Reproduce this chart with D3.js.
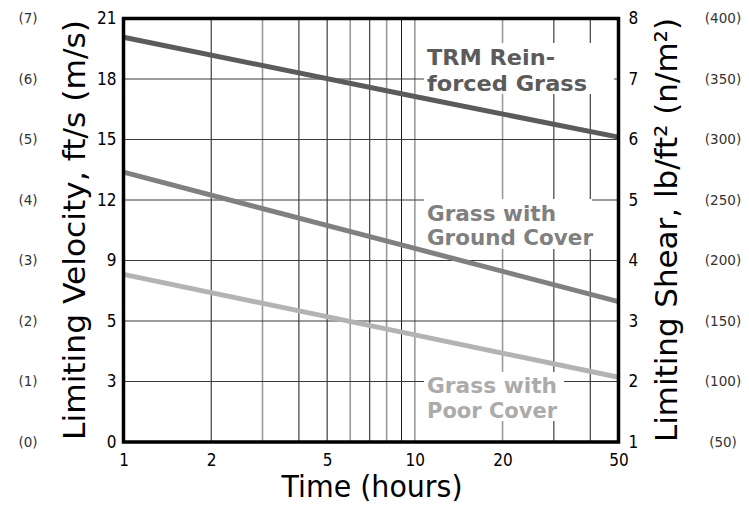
<!DOCTYPE html>
<html>
<head>
<meta charset="utf-8">
<script src="https://cdn.jsdelivr.net/npm/d3@7"></script>
<style>
  html, body { margin: 0; padding: 0; background: #fff; }
  svg { display: block; }
</style>
</head>
<body>
<svg id="chart" width="749" height="508"></svg>
<script>
// ---- data ----
const times = [1, 10, 50];
const trmShear = [7.69, 6.71, 6.04];      // lb/ft^2
const groundShear = [5.46, 4.20, 3.32];
const poorShear = [3.77, 2.77, 2.07];

const xTickValues = [1, 2, 5, 10, 20, 50];
const xGridValues = [2, 3, 4, 5, 6, 7, 8, 9, 10, 20, 30, 40];
const velocityTicks = [0, 3, 6, 9, 12, 15, 18, 21];
const velocityTickLabels = ["0", "3", "5", "9", "12", "15", "18", "21"];
const velocityMetricLabels = ["(0)", "(1)", "(2)", "(3)", "(4)", "(5)", "(6)", "(7)"];
const shearTicks = [1, 2, 3, 4, 5, 6, 7, 8];
const shearMetricLabels = ["(50)", "(100)", "(150)", "(200)", "(250)", "(300)", "(350)", "(400)"];

// ---- layout ----
const svg = d3.select("#chart");
const L = 123.5, R = 618.5, T = 18.5, B = 442;
const x = d3.scaleLog().domain([1, 50]).range([L, R]);
const yVel = d3.scaleLinear().domain([0, 21]).range([B, T]);
const yShear = d3.scaleLinear().domain([1, 8]).range([B, T]);
const grayGrid = new Set([3, 6, 8, 10, 20]);

// grid
svg.append("g").selectAll("line").data(xGridValues).join("line")
  .attr("x1", d => x(d)).attr("x2", d => x(d))
  .attr("y1", T).attr("y2", B)
  .attr("stroke", d => grayGrid.has(d) ? "#9a9a9a" : "#1a1a1a")
  .attr("stroke-width", d => grayGrid.has(d) ? 1.6 : 1);

svg.append("g").selectAll("line").data(velocityTicks.slice(1, -1)).join("line")
  .attr("x1", L).attr("x2", R)
  .attr("y1", d => yVel(d)).attr("y2", d => yVel(d))
  .attr("stroke", "#3a3a3a").attr("stroke-width", 1);

// label knock-out boxes
const boxes = [[424, 43, 190, 51], [424, 199, 168, 50], [424, 372, 140, 49]];
svg.append("g").selectAll("rect").data(boxes).join("rect")
  .attr("x", d => d[0]).attr("y", d => d[1]).attr("width", d => d[2]).attr("height", d => d[3])
  .attr("fill", "#fff");

// lines
const series = [
  { vals: trmShear, color: "#5b5b5b" },
  { vals: groundShear, color: "#808080" },
  { vals: poorShear, color: "#b3b3b3" }
];
const line = d3.line().x(d => x(d[0])).y(d => yShear(d[1]));
svg.append("g").selectAll("path").data(series).join("path")
  .attr("d", s => line(times.map((t, i) => [t, s.vals[i]])))
  .attr("fill", "none").attr("stroke", s => s.color).attr("stroke-width", 5);

// frame
svg.append("rect").attr("x", L).attr("y", T).attr("width", R - L).attr("height", B - T)
  .attr("fill", "none").attr("stroke", "#000").attr("stroke-width", 3.5);

// axes
const tickFont = "'DejaVu Sans Condensed', 'DejaVu Sans', sans-serif";
const metricFont = "'DejaVu Sans', sans-serif";
function styleAxis(g, size, color, anchor, family) {
  g.select(".domain").remove();
  g.selectAll("line").remove();
  g.selectAll("text").attr("font-family", family || tickFont).attr("font-size", size).attr("fill", color);
  if (anchor) g.selectAll("text").attr("text-anchor", anchor);
}
svg.append("g").attr("transform", `translate(${L},0)`)
  .call(d3.axisLeft(yVel).tickValues(velocityTicks).tickFormat((d, i) => velocityTickLabels[i]).tickSize(0).tickPadding(7))
  .call(g => styleAxis(g, 17, "#000"));
svg.append("g").attr("transform", `translate(28,0)`)
  .call(d3.axisLeft(yVel).tickValues(velocityTicks).tickFormat((d, i) => velocityMetricLabels[i]).tickSize(0).tickPadding(0))
  .call(g => styleAxis(g, 13.5, "#333", "middle", metricFont));
svg.append("g").attr("transform", `translate(${R},0)`)
  .call(d3.axisRight(yShear).tickValues(shearTicks).tickFormat(d3.format("d")).tickSize(0).tickPadding(10))
  .call(g => styleAxis(g, 17, "#000"));
svg.append("g").attr("transform", `translate(723,0)`)
  .call(d3.axisRight(yShear).tickValues(shearTicks).tickFormat((d, i) => shearMetricLabels[i]).tickSize(0).tickPadding(0))
  .call(g => styleAxis(g, 13.5, "#333", "middle", metricFont));
svg.append("g").attr("transform", `translate(0,${B})`)
  .call(d3.axisBottom(x).tickValues(xTickValues).tickFormat(d3.format("d")).tickSize(0).tickPadding(12))
  .call(g => styleAxis(g, 17, "#000"));

// titles
const titleFont = "'DejaVu Sans', sans-serif";
svg.append("text").attr("x", 372).attr("y", 497).attr("text-anchor", "middle")
  .attr("font-family", titleFont).attr("font-size", 30).attr("fill", "#000")
  .attr("textLength", 181).attr("lengthAdjust", "spacingAndGlyphs")
  .text("Time (hours)");
svg.append("text").attr("transform", "translate(85,230) rotate(-90)").attr("text-anchor", "middle")
  .attr("font-family", titleFont).attr("font-size", 31).attr("fill", "#000")
  .attr("textLength", 420).attr("lengthAdjust", "spacingAndGlyphs")
  .text("Limiting Velocity, ft/s (m/s)");
svg.append("text").attr("transform", "translate(677,230) rotate(-90)").attr("text-anchor", "middle")
  .attr("font-family", titleFont).attr("font-size", 31).attr("fill", "#000")
  .attr("textLength", 424).attr("lengthAdjust", "spacingAndGlyphs")
  .text("Limiting Shear, lb/ft² (n/m²)");

// series labels
const labels = [
  { text: "TRM Rein-", y: 65, w: 128, color: "#5b5b5b" },
  { text: "forced Grass", y: 91, w: 160, color: "#5b5b5b" },
  { text: "Grass with", y: 221, w: 129, color: "#808080" },
  { text: "Ground Cover", y: 245, w: 166, color: "#808080" },
  { text: "Grass with", y: 393, w: 130, color: "#ababab" },
  { text: "Poor Cover", y: 418, w: 130, color: "#ababab" }
];
svg.append("g").selectAll("text").data(labels).join("text")
  .attr("x", 427).attr("y", d => d.y)
  .attr("font-family", titleFont).attr("font-weight", "bold").attr("font-size", 22)
  .attr("fill", d => d.color)
  .attr("textLength", d => d.w).attr("lengthAdjust", "spacingAndGlyphs")
  .text(d => d.text);
</script>
</body>
</html>
